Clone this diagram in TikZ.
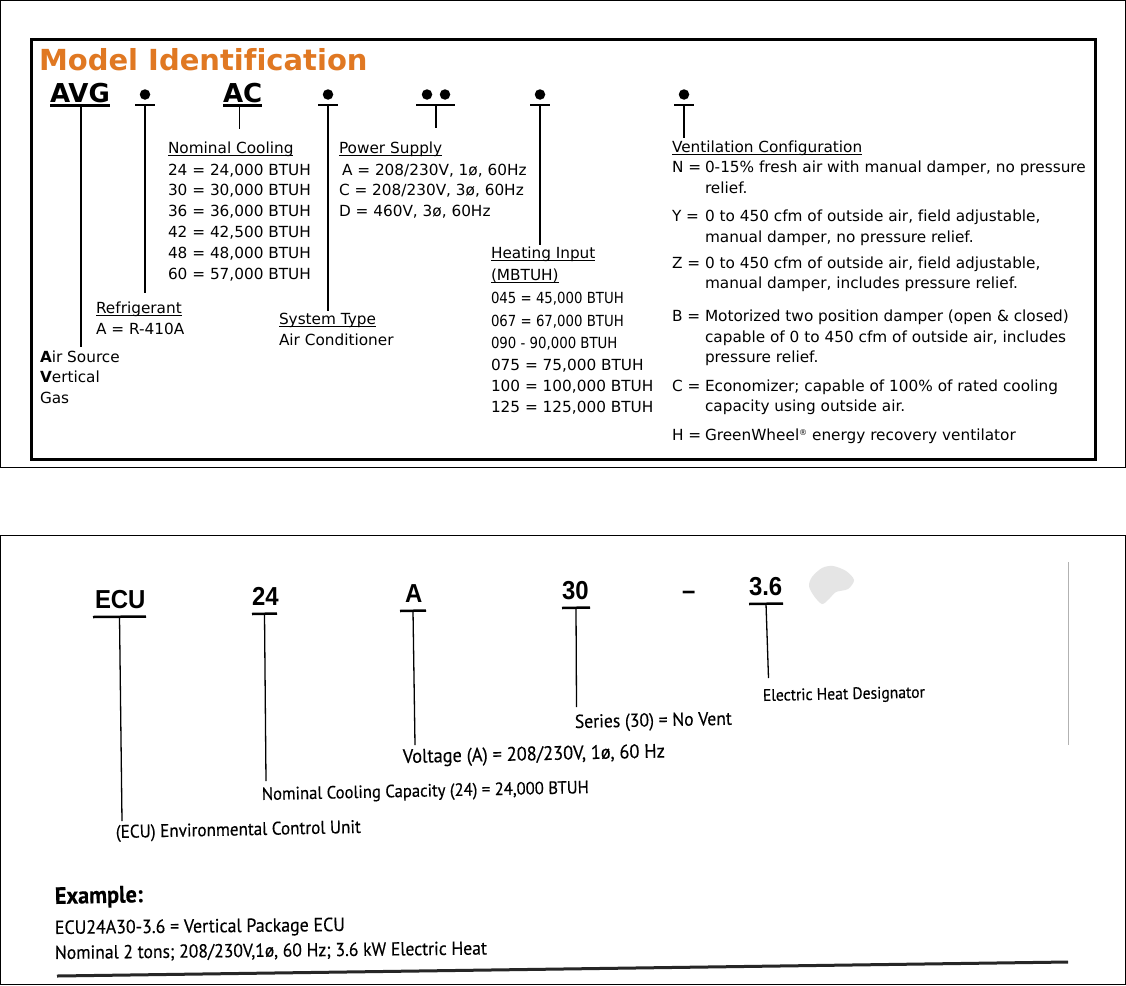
\documentclass[tikz,border=0pt]{standalone}
\usepackage{fontspec}
\usepackage{graphicx}
\usetikzlibrary{calc}
\setmainfont{DejaVu Sans}[Ligatures=NoCommon]
\newfontfamily\ptsans{PT Sans}[FakeBold=0.3]
\newfontfamily\arialf{Liberation Sans}
\definecolor{titleorange}{RGB}{224,120,34}
\newcommand\fw[2]{\scalebox{1}[1.07]{\resizebox{#1pt}{!}{#2}}}
\newcommand\nar[1]{\scalebox{0.87}[1]{#1}}
\newcommand\cnd[1]{\scalebox{0.92}[1]{#1}}
\begin{document}
\begin{tikzpicture}[x=1pt,y=-1pt,
  tx/.style={inner sep=0pt, outer sep=0pt, anchor=base west, font=\fontsize{15.3}{18}\selectfont},
  code/.style={inner sep=0pt, outer sep=0pt, anchor=base west, font=\fontsize{26}{26}\selectfont\bfseries},
  big/.style={inner sep=0pt, outer sep=0pt, anchor=base west, font=\fontsize{26}{26}\selectfont\arialf\bfseries},
  sc/.style={inner sep=0pt, outer sep=0pt, anchor=base west, rotate=1.2, font=\fontsize{17}{20}\selectfont\ptsans},
  ul/.style={line width=1pt},
  lead/.style={line width=1.3pt},
  cul/.style={line width=2.5pt},
  bul/.style={circle, fill=black, inner sep=0pt, minimum size=10.5pt},
]
\useasboundingbox (0,0) rectangle (1126,985);
\fill[white] (0,0) rectangle (1126,985);

% ---------------- top panel ----------------
\draw[line width=1pt] (0.5,0.5) rectangle (1125.5,467);
\draw[line width=3pt] (31,39) rectangle (1095,459);

\node[inner sep=0pt, outer sep=0pt, anchor=base west, text=titleorange,
      font=\fontsize{29}{30}\selectfont\bfseries] (title) at (39,70) {Model Identification};

% code letters
\node[code] (avg) at (50,102) {AVG};
\node[code] (ac) at (223,102) {AC};
\draw[cul] ([yshift=-3.5pt]avg.base west) -- ([yshift=-3.5pt]avg.base east);
\draw[cul] ([yshift=-3.5pt]ac.base west) -- ([yshift=-3.5pt]ac.base east);

% bullets
\node[bul] (b1) at (145,94.5) {};
\node[bul] (b2) at (328,94.5) {};
\node[bul] (b3a) at (427,94.5) {};
\node[bul] (b3b) at (445,94.5) {};
\node[bul] (b4) at (540,94.5) {};
\node[bul] (b5) at (684,94.5) {};
\foreach \b in {b1,b2,b4,b5}{
  \draw[cul] ([xshift=-10pt,yshift=-10.5pt]\b.center) -- ([xshift=10pt,yshift=-10.5pt]\b.center);
}
\draw[cul] ([xshift=-11pt,yshift=-10.5pt]b3a.center) -- ([xshift=10pt,yshift=-10.5pt]b3b.center);

% leaders
\draw[lead] ([xshift=1pt,yshift=-3.5pt]avg.base) -- ++(0,241);
\draw[lead] ([yshift=-10.5pt]b1.center) -- ++(0,188);
\draw[lead] ([xshift=-3pt,yshift=-3.5pt]ac.base) -- ++(0,23);
\draw[lead] ([yshift=-10.5pt]b2.center) -- ++(0,206);
\draw[lead] ([xshift=9pt,yshift=-10.5pt]b3a.center) -- ++(0,23);
\draw[lead] ([yshift=-10.5pt]b4.center) -- ++(0,140);
\draw[lead] ([yshift=-10.5pt]b5.center) -- ++(0,33);

% Nominal cooling
\node[tx] (nc) at (168,153) {Nominal Cooling};
\draw[ul] ([yshift=-2pt]nc.base west) -- ([yshift=-2pt]nc.base east);
\node[tx] (nc1) at (168,175) {24 = 24,000 BTUH};
\node[tx] (nc2) at (168,195.8) {30 = 30,000 BTUH};
\node[tx] (nc3) at (168,216.6) {36 = 36,000 BTUH};
\node[tx] (nc4) at (168,237.4) {42 = 42,500 BTUH};
\node[tx] (nc5) at (168,258.2) {48 = 48,000 BTUH};
\node[tx] (nc6) at (168,279) {60 = 57,000 BTUH};

% Power supply
\node[tx] (ps) at (339,153) {Power Supply};
\draw[ul] ([yshift=-2pt]ps.base west) -- ([yshift=-2pt]ps.base east);
\node[tx] (ps1) at (342,175) {A = 208/230V, 1ø, 60Hz};
\node[tx] (ps2) at (339,195.8) {C = 208/230V, 3ø, 60Hz};
\node[tx] (ps3) at (339,216.6) {D = 460V, 3ø, 60Hz};

% Refrigerant
\node[tx] (rf) at (96,313) {Refrigerant};
\draw[ul] ([yshift=-2pt]rf.base west) -- ([yshift=-2pt]rf.base east);
\node[tx] (rf1) at (96,334) {A = R-410A};

% System type
\node[tx] (st) at (279,324) {System Type};
\draw[ul] ([yshift=-2pt]st.base west) -- ([yshift=-2pt]st.base east);
\node[tx] (st1) at (279,345) {Air Conditioner};

% AVG meaning
\node[tx] (as1) at (40,362) {\textbf{A}ir Source};
\node[tx] (as2) at (40,382.5) {\textbf{V}ertical};
\node[tx] (as3) at (40,403) {Gas};

% Heating input
\node[tx] (hi) at (491,258) {Heating Input\hspace{5pt}};
\draw[ul] ([yshift=-2pt]hi.base west) -- ([yshift=-2pt]hi.base east);
\node[tx] (hi0) at (491,280) {(MBTUH)};
\draw[ul] ([yshift=-2pt]hi0.base west) -- ([yshift=-2pt]hi0.base east);
\node[tx] (hi1) at (491,303) {\nar{045 = 45,000 BTUH}};
\node[tx] (hi2) at (491,326) {\nar{067 = 67,000 BTUH}};
\node[tx] (hi3) at (491,348) {\nar{090 - 90,000 BTUH}};
\node[tx] (hi4) at (491,370) {075 = 75,000 BTUH};
\node[tx] (hi5) at (491,391) {100 = 100,000 BTUH};
\node[tx] (hi6) at (491,412.5) {125 = 125,000 BTUH};

% Ventilation
\node[tx] (vc) at (672,152) {Ventilation Configuration};
\draw[ul] ([yshift=-2pt]vc.base west) -- ([yshift=-2pt]vc.base east);
\node[tx] (vN) at (672,172) {N =};
\node[tx] (vN1) at (705,172) {0-15\% fresh air with manual damper, no pressure};
\node[tx] (vN2) at (705,193) {relief.};
\node[tx] (vY) at (672,221.5) {Y =};
\node[tx] (vY1) at (705,221.5) {0 to 450 cfm of outside air, field adjustable,};
\node[tx] (vY2) at (705,242) {manual damper, no pressure relief.};
\node[tx] (vZ) at (672,268) {Z =};
\node[tx] (vZ1) at (705,268) {0 to 450 cfm of outside air, field adjustable,};
\node[tx] (vZ2) at (705,288.5) {manual damper, includes pressure relief.};
\node[tx] (vB) at (672,321.5) {B =};
\node[tx] (vB1) at (705,321.5) {Motorized two position damper (open \& closed)};
\node[tx] (vB2) at (705,342) {capable of 0 to 450 cfm of outside air, includes};
\node[tx] (vB3) at (705,362.5) {pressure relief.};
\node[tx] (vC) at (672,391) {C =};
\node[tx] (vC1) at (705,391) {Economizer; capable of 100\% of rated cooling};
\node[tx] (vC2) at (705,411.5) {capacity using outside air.};
\node[tx] (vH) at (672,440) {H =};
\node[tx] (vH1) at (705,440) {GreenWheel\raisebox{5pt}{\fontsize{8}{8}\selectfont ®} energy recovery ventilator};

% ---------------- bottom panel ----------------
\draw[line width=1pt] (0.5,535) rectangle (1125.5,984.5);
\draw[gray!60, line width=0.8pt] (1068,562) -- (1068,745);
\fill[gray!20] plot[smooth cycle] coordinates {(812,577) (822,568) (833,566) (846,571) (854,580) (848,589) (836,592) (829,599) (822,604) (814,596) (809,586)};

\node[big] (ecu) at (95,608) {\cnd{ECU}};
\node[big] (c24) at (252,605) {\cnd{24}};
\node[big] (cA) at (405,602) {\cnd{A}};
\node[big] (c30) at (562,599) {\cnd{30}};
\node[big] (cdash) at (682,599) {\cnd{–}};
\node[big] (c36) at (749,595) {\cnd{3.6}};

\coordinate (u1a) at (93,617);  \coordinate (u1b) at (146,616.5);
\coordinate (u2a) at (252,614); \coordinate (u2b) at (277,613.5);
\coordinate (u3a) at (400,611); \coordinate (u3b) at (426,610.5);
\coordinate (u4a) at (562,608); \coordinate (u4b) at (590,607.5);
\coordinate (u5a) at (749,604); \coordinate (u5b) at (783,603.5);
\foreach \a/\b in {u1a/u1b,u2a/u2b,u3a/u3b,u4a/u4b,u5a/u5b}{\draw[cul] (\a) -- (\b);}

\coordinate (e1) at (122,821);
\coordinate (e2) at (266,781);
\coordinate (e3) at (415,745);
\coordinate (e4) at (576.5,707);
\coordinate (e5) at (768.5,678);
\draw[lead] ($(u1a)!0.5!(u1b)$) -- (e1);
\draw[lead] ($(u2a)!0.5!(u2b)$) -- (e2);
\draw[lead] ($(u3a)!0.5!(u3b)$) -- (e3);
\draw[lead] ($(u4a)!0.5!(u4b)$) -- (e4);
\draw[lead] ($(u5a)!0.5!(u5b)$) -- (e5);

\node[sc] (l5) at (763,701) {\fw{162}{Electric Heat Designator}};
\node[sc] (l4) at (575,728) {\fw{157}{Series (30) = No Vent}};
\node[sc] (l3) at (403,763) {\fw{262}{Voltage (A) = 208/230V, 1ø, 60 Hz}};
\node[sc] (l2) at (262,800) {\fw{327}{Nominal Cooling Capacity (24) = 24,000 BTUH}};
\node[sc] (l1) at (116,838) {\fw{245}{(ECU) Environmental Control Unit}};

\node[sc] (ex) at (55,904) {\fw{88}{\bfseries Example:}};
\node[sc, rotate=-0.6] (exl1) at (55,934) {\fw{290}{ECU24A30-3.6 = Vertical Package ECU}};
\node[sc, rotate=-0.6] (exl2) at (55,959) {\fw{432}{Nominal 2 tons; 208/230V,1ø, 60 Hz; 3.6 kW Electric Heat}};

\coordinate (bl1) at (57,976);
\coordinate (bl2) at (1068,962);
\draw[line width=3pt, black!85] (bl1) -- (bl2);
\end{tikzpicture}
\end{document}
